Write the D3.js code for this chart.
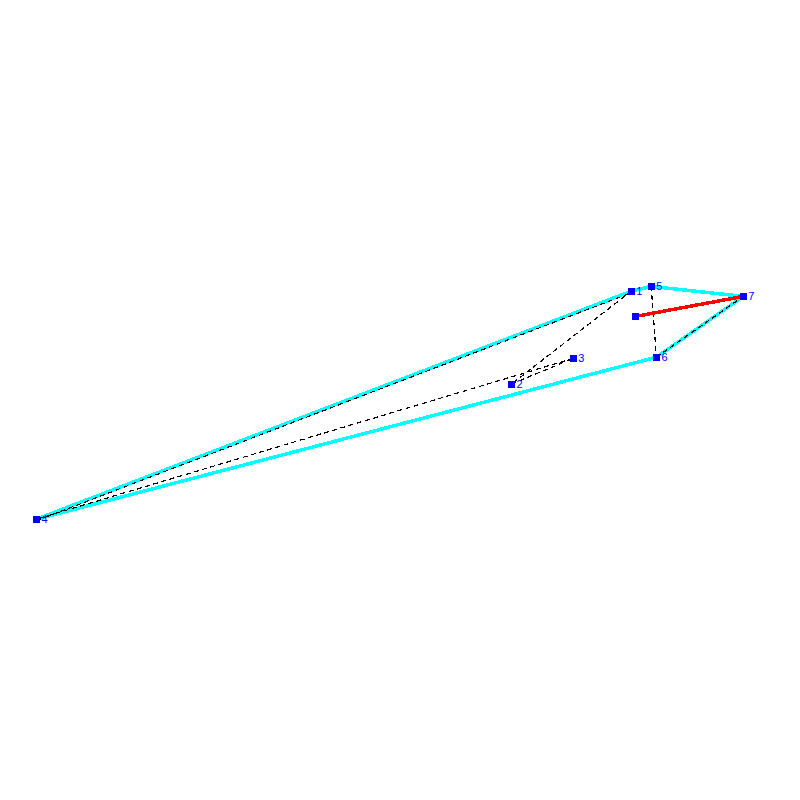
<!DOCTYPE html>
<html>
<head>
<meta charset="utf-8">
<script src="https://cdnjs.cloudflare.com/ajax/libs/d3/7.8.5/d3.min.js"></script>
<style>
  html, body { margin: 0; padding: 0; background: #fff; }
  svg { display: block; }
</style>
</head>
<body>
<script>
"use strict";

// node positions (percent of the canvas)
var nodeIds = [1, 2, 3, 4, 5, 6, 7, 8];
var nodeX = [78.9, 63.95, 71.65, 4.55, 81.4, 82.05, 92.9, 79.45];
var nodeY = [36.4, 48.0, 44.8, 64.9, 35.8, 44.65, 37.05, 39.55];
var nodeLabels = ["1", "2", "3", "4", "5", "6", "7", ""];

// edges as pairs of node ids
var hullEdges = [[4, 1], [1, 5], [5, 7], [7, 6], [6, 4]];
var dashedEdges = [[1, 2], [2, 3], [3, 4], [4, 1], [5, 6], [6, 7]];
var redEdges = [[8, 7]];

var x = d3.scaleLinear().domain([0, 100]).range([0, 800]);
var y = d3.scaleLinear().domain([0, 100]).range([0, 800]);

var svg = d3.select("body").append("svg")
  .attr("width", 800)
  .attr("height", 800)
  .attr("shape-rendering", "crispEdges");

function px(id) { return x(nodeX[nodeIds.indexOf(id)]); }
function py(id) { return y(nodeY[nodeIds.indexOf(id)]); }

function drawEdges(edges, color, width, dash) {
  return svg.append("g").selectAll("line")
    .data(edges)
    .enter().append("line")
    .attr("x1", function(d) { return px(d[0]); })
    .attr("y1", function(d) { return py(d[0]); })
    .attr("x2", function(d) { return px(d[1]); })
    .attr("y2", function(d) { return py(d[1]); })
    .attr("stroke", color)
    .attr("stroke-width", width)
    .attr("stroke-dasharray", dash);
}

drawEdges(hullEdges, "#00ffff", 3.5, null);
// the 4-1 dashes sit on the lower edge of the cyan line in the reference
drawEdges(dashedEdges, "#000000", 1.2, "5,3.5")
  .attr("transform", function(d) { return d[0] === 4 && d[1] === 1 ? "translate(0,1.5)" : null; });
drawEdges(redEdges, "#ff0000", 3.5, null);

// square markers
svg.append("g").selectAll("rect")
  .data(nodeIds)
  .enter().append("rect")
  .attr("x", function(d) { return px(d) - 3.5; })
  .attr("y", function(d) { return py(d) - 3.5; })
  .attr("width", 7)
  .attr("height", 7)
  .attr("fill", "#0000ff");

svg.append("g").selectAll("text")
  .data(nodeIds)
  .enter().append("text")
  .attr("x", function(d) { return px(d) + 5; })
  .attr("y", function(d) { return py(d) + 4; })
  .attr("font-family", "Liberation Sans")
  .attr("font-size", 11)
  .attr("fill", "#0000ff")
  .text(function(d, i) { return nodeLabels[i]; });
</script>
</body>
</html>
